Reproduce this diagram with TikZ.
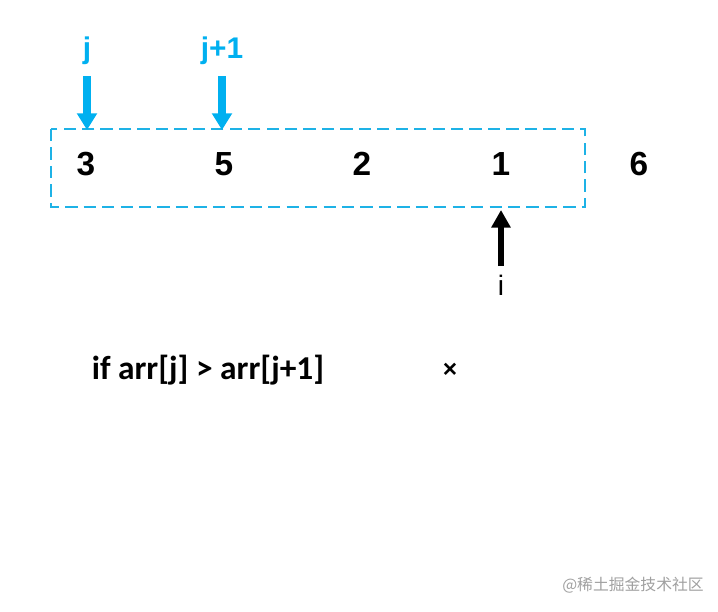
\documentclass[tikz,border=0pt]{standalone}
\usepackage{fontspec}
\setmainfont{Liberation Sans}
\newfontfamily\calfont{Carlito}
\newfontfamily\cjk{Noto Sans CJK SC}
\usetikzlibrary{arrows.meta}
\definecolor{sky}{RGB}{0,176,240}
\definecolor{boxline}{RGB}{30,178,230}
\definecolor{wmgray}{RGB}{160,160,160}
\tikzset{
  num/.style={font=\fontsize{19}{22}\selectfont\bfseries},
  idx/.style={sky,font=\fontsize{17}{20}\selectfont\bfseries},
  ptr/.style={line width=4.2pt,-{Triangle[width=11pt,length=9.5pt]}},
}

\begin{document}
\begin{tikzpicture}[x=0.02cm,y=-0.02cm]
\useasboundingbox (0,0) rectangle (718,612);
% window of the inner loop
\draw[boxline,line width=1.6pt,dash pattern=on 7pt off 3.5pt] (51,129) rectangle (585,207);
% the numbers
\node[num] (n1) at (86,164) {3};
\node[num] (n2) at (224,164) {5};
\node[num] (n3) at (362,164) {2};
\node[num] (n4) at (501,164) {1};
\node[num] (n5) at (639,164) {6};
% j and j+1
\node[idx] (j) at (87,51) {j};
\node[idx] (jj) at (222,51) {j+1};
\coordinate (jtop) at (87,76);
\coordinate (jbot) at (87,130);
\coordinate (jjtop) at (222,76);
\coordinate (jjbot) at (222,130);
\draw[sky,ptr] (jtop) -- (jbot);
\draw[sky,ptr] (jjtop) -- (jjbot);
% i
\node[font=\fontsize{16}{18}\selectfont] (i) at (501,285) {i};
\coordinate (ibot) at (501,266);
\coordinate (itop) at (501,210);
\draw[black,line width=3.4pt,-{Triangle[width=10.5pt,length=10pt]}] (ibot) -- (itop);
% the test
\node[font=\calfont\fontsize{19}{22}\selectfont\bfseries] (cond) at (208,370) {if arr[j] > arr[j+1]};
\node[font=\fontsize{14}{16}\selectfont\bfseries] (no) at (450,370) {×};
% watermark
\node[wmgray,font=\cjk\fontsize{9}{11}\selectfont] (wm) at (633,585) {@稀土掘金技术社区};
\end{tikzpicture}
\end{document}
